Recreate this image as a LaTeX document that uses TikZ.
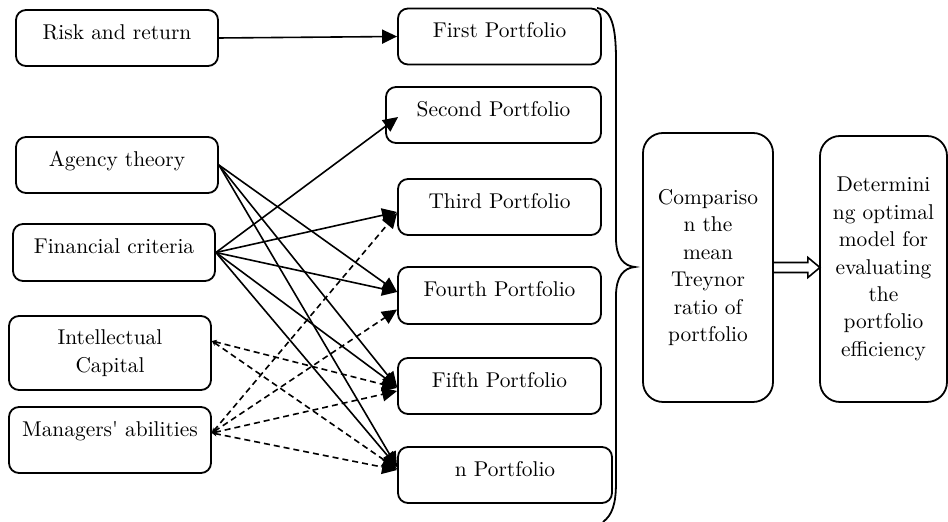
\documentclass[tikz,border=0pt]{standalone}
\usetikzlibrary{arrows.meta}
\begin{document}
\begin{tikzpicture}[x=0.5pt,y=-0.5pt,
  font=\fontsize{10.7}{13.7}\selectfont,
  box/.style={draw, line width=0.9pt, rounded corners=5pt, minimum height=28pt,
    text height=7.5pt, text depth=6pt, inner sep=0pt},
  tallbox/.style={draw, line width=0.9pt, rounded corners=10pt, align=center, inner sep=0pt},
  link/.style={line width=0.8pt, -{Triangle[length=7.5pt,width=7pt]}},
  dlink/.style={line width=0.8pt, dash pattern=on 3pt off 2pt,
    {Stealth[length=2.5pt,width=2.5pt]}-{Triangle[length=7.5pt,width=7pt]}}]
\useasboundingbox (0,0) rectangle (948,522);

% factors
\node [box, minimum width=101pt] (risk) at (117,38) {Risk and return};
\node [box, minimum width=101pt] (agency) at (117,165) {Agency theory};
\node [box, minimum width=101pt, minimum height=28.5pt] (fin) at (114,252.5) {Financial criteria};
\node [tallbox, rounded corners=5pt, minimum width=101pt, minimum height=37pt] (intel) at (110,353) {Intellectual\\Capital};
\node [box, minimum width=101pt, minimum height=33pt, text depth=11pt] (mgr) at (110,440) {Managers\textquotesingle{} abilities};

% portfolios
\node [box, minimum width=101.5pt] (first) at (499.5,36.5) {First Portfolio};
\node [box, minimum width=107.5pt] (second) at (493.5,115) {Second Portfolio};
\node [box, minimum width=101.5pt] (third) at (499.5,207) {Third Portfolio};
\node [box, minimum width=101.5pt, minimum height=28.5pt] (fourth) at (499.5,295.5) {Fourth Portfolio};
\node [box, minimum width=101.5pt] (fifth) at (499.5,386) {Fifth Portfolio};
\node [box, minimum width=107pt] (nport) at (505,475) {n Portfolio};

% comparison and result
\node [tallbox, minimum width=65pt, minimum height=134.5pt] (comp) at (708,267.5) {Compariso\\n the\\mean\\Treynor\\ratio of\\portfolio};
\node [tallbox, minimum width=63.5pt, minimum height=133pt] (det) at (883.5,269) {Determini\\ng optimal\\model for\\evaluating\\the\\portfolio\\efficiency};

% solid links
\draw [link] (risk.east) -- (first.west);
\foreach \t/\s in {fourth/1.75pt, fifth/-0.5pt, nport/4pt}
  \draw [link] (agency.east) -- ([yshift=\s]\t.west);
\draw [link] (fin.east) -- ([xshift=6.5pt,yshift=-1pt]second.west);
\foreach \t/\s in {third/-2.5pt, fourth/1.75pt, fifth/-0.5pt, nport/4pt}
  \draw [link] (fin.east) -- ([yshift=\s]\t.west);

% dashed links
\foreach \t/\s in {fifth/-1pt, nport/3pt}
  \draw [dlink] ([yshift=6pt]intel.east) -- ([yshift=\s]\t.west);
\foreach \t/\s in {third/-3pt, fourth/-7pt, fifth/-2.5pt, nport/2.5pt}
  \draw [dlink] ([yshift=3.5pt]mgr.east) -- ([yshift=\s]\t.west);

% brace
\draw [line width=0.9pt] (597,8) .. controls (611,9) and (616,25) .. (616,60) -- (616,238)
  .. controls (616,258) and (624,266) .. (635,267)
  .. controls (624,268) and (616,276) .. (616,296) -- (616,482)
  .. controls (616,505) and (612,515) .. (603,522);

% hollow arrow
\draw [line width=0.8pt, shift={(comp.east)}] (0,-5) -- (34,-5) -- (34,-10) -- (46,0) -- (34,10) -- (34,5) -- (0,5);
\end{tikzpicture}
\end{document}
